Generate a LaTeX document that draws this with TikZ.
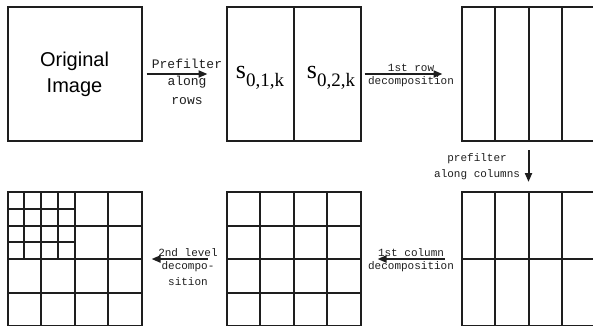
\documentclass[tikz,border=0pt]{standalone}
\usepackage{fontspec}
\setmainfont{Liberation Serif}
\setsansfont{Liberation Sans}
\setmonofont{Liberation Mono}
\usetikzlibrary{arrows.meta,positioning,calc}
\definecolor{inkgray}{RGB}{30,30,30}
\tikzset{
  imgbox/.style={rectangle, draw=inkgray, line width=2pt, minimum size=134pt,
                 inner sep=0pt, outer sep=0pt},
  gridline/.style={draw=inkgray, line width=2pt},
  flow/.style={-{Triangle[length=9pt,width=7pt]}, line width=2pt, inkgray},
  steplabel/.style={font=\ttfamily\fontsize{11}{16}\selectfont, align=center, inner sep=1.5pt},
  coeff/.style={font=\fontsize{26}{26}\selectfont, inner sep=0pt, anchor=base},
}
\newcommand{\coefsub}[1]{s\raisebox{-8pt}{\fontsize{19}{19}\selectfont #1}}

\begin{document}
\begin{tikzpicture}[x=1pt, y=-1pt]
\useasboundingbox (0,0) rectangle (593,325);
% top row
\node[imgbox, font=\sffamily\fontsize{20}{26}\selectfont, align=center] (orig) at (74.5,74) {Original\\Image};
\node[imgbox, right=85pt of orig] (split) {};
\node[imgbox, right=101pt of split] (cols) {};
% bottom row
\node[imgbox, below=51pt of cols] (quad) {};
\node[imgbox, left=101pt of quad] (level1) {};
\node[imgbox, left=85pt of level1] (level2) {};

% subband lines
\draw[gridline] (split.north) -- (split.south);
\foreach \f in {0.25,0.5,0.75} {
  \draw[gridline] ($(cols.north west)!\f!(cols.north east)$) -- ($(cols.south west)!\f!(cols.south east)$);
  \draw[gridline] ($(quad.north west)!\f!(quad.north east)$) -- ($(quad.south west)!\f!(quad.south east)$);
  \draw[gridline] ($(level1.north west)!\f!(level1.north east)$) -- ($(level1.south west)!\f!(level1.south east)$);
  \draw[gridline] ($(level1.north west)!\f!(level1.south west)$) -- ($(level1.north east)!\f!(level1.south east)$);
  \draw[gridline] ($(level2.north west)!\f!(level2.north east)$) -- ($(level2.south west)!\f!(level2.south east)$);
  \draw[gridline] ($(level2.north west)!\f!(level2.south west)$) -- ($(level2.north east)!\f!(level2.south east)$);
}
\draw[gridline] (quad.west) -- (quad.east);
\foreach \f in {0.125,0.375} {
  \draw[gridline] ($(level2.north west)!\f!(level2.north east)$) -- ($(level2.west)!\f!(level2.east)$);
  \draw[gridline] ($(level2.north west)!\f!(level2.south west)$) -- ($(level2.north)!\f!(level2.south)$);
}

% coefficient labels
\node[coeff, yshift=-4pt] (s1) at ($(split.center)!0.5!(split.west)$) {\coefsub{0,1,k}};
\node[coeff, yshift=-4pt, xshift=4pt] (s2) at ($(split.center)!0.5!(split.east)$) {\coefsub{0,2,k}};

% steps
\draw[flow, shorten <=5pt, shorten >=19pt] (orig.east) -- (split.west)
  node[midway, above, xshift=3pt, yshift=3pt, steplabel, font=\ttfamily\fontsize{13}{19}\selectfont]{Prefilter}
  node[midway, below, xshift=3pt, steplabel, font=\ttfamily\fontsize{13}{19}\selectfont]{along\\rows};
\draw[flow, shorten <=4pt, shorten >=19pt] (split.east) -- (cols.west)
  node[midway, above, steplabel]{1st row}
  node[midway, below, steplabel]{decomposition};
\draw[flow, shorten <=9pt, shorten >=10pt] (cols.south) -- (quad.north)
  node[midway, left, xshift=-6pt, steplabel]{prefilter\\along columns};
\draw[flow, shorten <=17pt, shorten >=17pt] (quad.west) -- (level1.east)
  node[midway, above, steplabel]{1st column}
  node[midway, below, steplabel]{decomposition};
\draw[flow, shorten <=19pt, shorten >=10pt] (level1.west) -- (level2.east)
  node[midway, above, xshift=4pt, steplabel]{2nd level}
  node[midway, below, xshift=4pt, steplabel]{decompo-\\sition};
\end{tikzpicture}
\end{document}
